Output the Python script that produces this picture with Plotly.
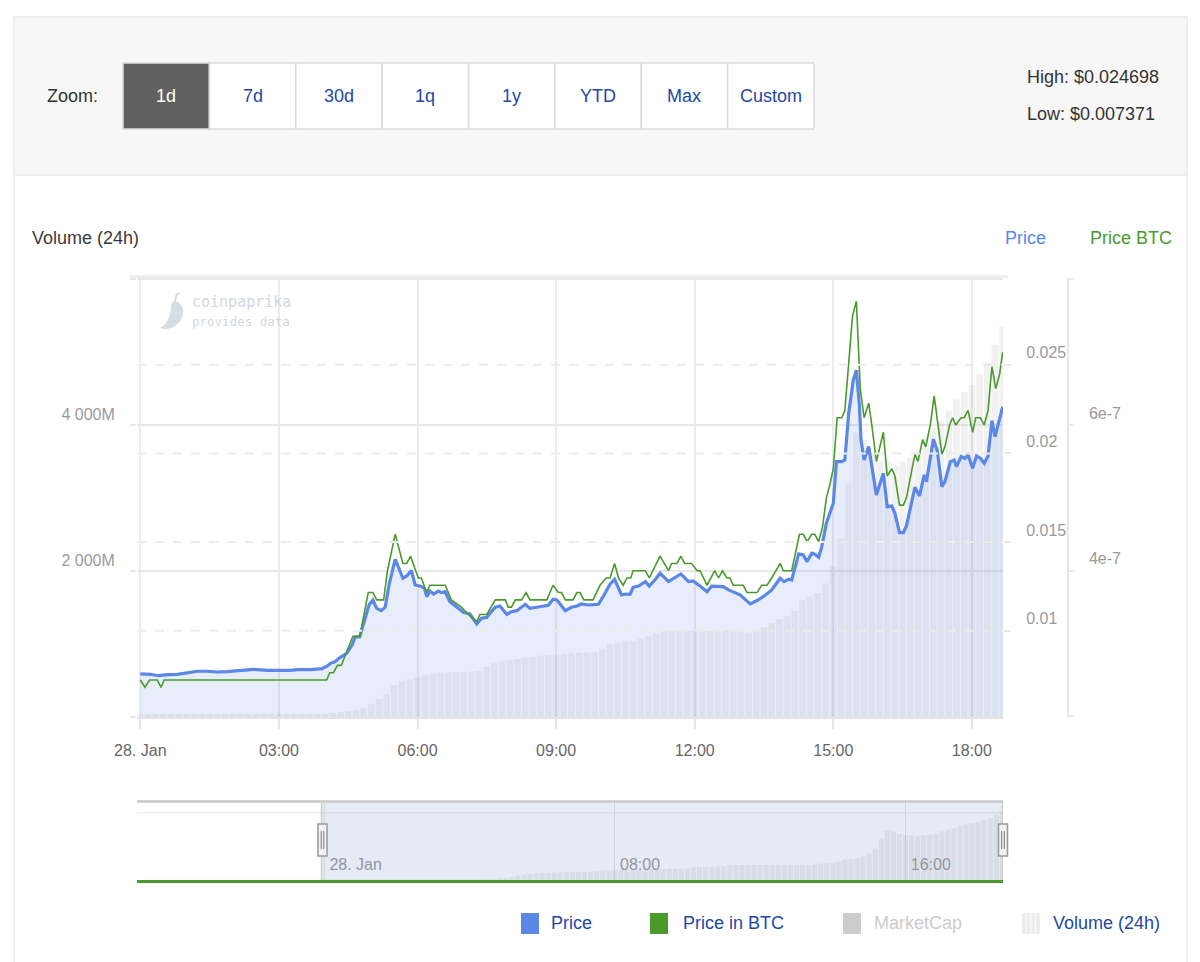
import pandas as pd
import plotly.graph_objects as go

W, H = 1200, 962
BASE = pd.Timestamp("2019-01-28 00:00")

# ---------------- data ----------------
price_minutes = [
    0, 13, 24, 35, 48, 61, 74, 87, 100, 113,
    126, 139, 147, 165, 178, 195, 204, 221, 236, 243,
    247, 253, 258, 264, 268, 275, 279, 285, 290, 297,
    302, 307, 313, 318, 323, 327, 331, 341, 346, 352,
    357, 365, 369, 372, 376, 381, 387, 391, 396, 402,
    413, 420, 428, 437, 443, 450, 454, 461, 467, 476,
    482, 489, 500, 506, 515, 523, 530, 536, 541, 552,
    560, 567, 573, 582, 595, 601, 610, 616, 625, 630,
    636, 640, 647, 656, 661, 669, 675, 686, 694, 702,
    712, 718, 727, 736, 742, 751, 757, 764, 772, 779,
    792, 801, 809, 820, 831, 836, 842, 846, 855, 861,
    866, 872, 876, 881, 885, 891, 900, 904, 911, 915,
    920, 926, 930, 934, 936, 940, 946, 950, 956, 965,
    970, 976, 980, 986, 991, 995, 1002, 1006, 1012, 1018,
    1021, 1030, 1035, 1041, 1045, 1052, 1057, 1060, 1066, 1071,
    1075, 1081, 1086, 1091, 1096, 1101, 1106, 1110, 1117, 1120,
]
price_usd = [
    0.00756, 0.00754, 0.00746, 0.00752, 0.00754, 0.00763, 0.00771, 0.00771, 0.00767, 0.00769,
    0.00775, 0.00782, 0.00782, 0.00776, 0.00775, 0.00776, 0.00780, 0.00780, 0.00786, 0.00801,
    0.00816, 0.00825, 0.00844, 0.00859, 0.00872, 0.00919, 0.00963, 0.00966, 0.01042, 0.01145,
    0.01173, 0.01126, 0.01113, 0.01132, 0.01258, 0.01324, 0.01403, 0.01296, 0.01309, 0.01339,
    0.01258, 0.01249, 0.01239, 0.01192, 0.01224, 0.01207, 0.01224, 0.01215, 0.01220, 0.01164,
    0.01126, 0.01102, 0.01094, 0.01038, 0.01070, 0.01075, 0.01098, 0.01132, 0.01139, 0.01092,
    0.01107, 0.01113, 0.01149, 0.01126, 0.01132, 0.01139, 0.01143, 0.01177, 0.01173, 0.01113,
    0.01132, 0.01139, 0.01151, 0.01145, 0.01149, 0.01192, 0.01262, 0.01290, 0.01202, 0.01207,
    0.01205, 0.01245, 0.01252, 0.01277, 0.01252, 0.01290, 0.01324, 0.01277, 0.01301, 0.01320,
    0.01277, 0.01281, 0.01252, 0.01220, 0.01252, 0.01249, 0.01249, 0.01230, 0.01215, 0.01202,
    0.01151, 0.01170, 0.01192, 0.01230, 0.01296, 0.01277, 0.01290, 0.01286, 0.01433, 0.01427,
    0.01390, 0.01437, 0.01431, 0.01414, 0.01474, 0.01606, 0.01719, 0.01954, 0.01954, 0.01963,
    0.02227, 0.02415, 0.02470, 0.02264, 0.02076, 0.01963, 0.02039, 0.01926, 0.01766, 0.01888,
    0.01700, 0.01704, 0.01662, 0.01553, 0.01553, 0.01591, 0.01728, 0.01809, 0.01760, 0.01879,
    0.01841, 0.02080, 0.02016, 0.01813, 0.01841, 0.01954, 0.01963, 0.01926, 0.01982, 0.01973,
    0.01992, 0.01916, 0.01986, 0.01973, 0.01945, 0.01986, 0.02185, 0.02095, 0.02212, 0.02264,
]

btc_minutes = [
    0, 6, 12, 22, 27, 31, 242, 246, 251, 256,
    261, 268, 276, 285, 296, 302, 307, 316, 321, 327,
    331, 341, 346, 351, 357, 361, 365, 372, 376, 396,
    404, 417, 426, 437, 441, 450, 461, 474, 478, 482,
    487, 495, 501, 506, 528, 536, 543, 547, 552, 562,
    567, 571, 576, 588, 597, 605, 610, 616, 621, 627,
    632, 637, 640, 656, 661, 675, 686, 690, 697, 702,
    707, 716, 723, 727, 736, 746, 751, 756, 762, 766,
    770, 783, 788, 801, 807, 814, 820, 831, 835, 846,
    856, 861, 866, 872, 876, 881, 886, 891, 896, 900,
    905, 911, 915, 920, 925, 930, 935, 940, 946, 950,
    956, 965, 970, 976, 980, 986, 991, 995, 1002, 1006,
    1010, 1016, 1020, 1026, 1031, 1035, 1041, 1045, 1051, 1055,
    1059, 1066, 1070, 1075, 1081, 1085, 1091, 1096, 1101, 1106,
    1111, 1116, 1120,
]
# price in BTC, in satoshi (1e-8 BTC)
btc_sats = [
    25, 24, 25, 25, 24, 25, 25, 26, 26, 27,
    27, 29, 31, 31, 37, 37, 36, 36, 40, 43,
    45, 41, 41, 42, 40, 39, 39, 37, 38, 38,
    36, 35, 34, 33, 34, 34, 36, 36, 35, 35,
    36, 36, 37, 36, 36, 38, 37, 37, 36, 36,
    37, 37, 36, 36, 38, 39, 39, 41, 39, 38,
    39, 39, 40, 40, 39, 42, 40, 41, 41, 42,
    41, 41, 40, 40, 38, 40, 39, 40, 39, 39,
    38, 38, 37, 37, 38, 38, 39, 41, 40, 40,
    45, 45, 44, 45, 45, 44, 46, 50, 52, 54,
    61, 61, 62, 68, 75, 77, 65, 61, 63, 60,
    55, 59, 53, 54, 53, 49, 49, 50, 54, 56,
    55, 58, 57, 60, 64, 61, 56, 57, 60, 61,
    60, 61, 61, 62, 59, 61, 61, 60, 62, 68,
    65, 67, 70,
]

# Volume (24h), million USD, every 10 minutes from 00:00 to 18:40
volume_step_min = 10
volume_musd = [
    50, 50, 50, 50, 50, 50, 50, 50, 50, 50,
    50, 50, 50, 50, 50, 50, 50, 50, 50, 50,
    50, 50, 50, 50, 50, 55, 65, 80, 95, 128,
    175, 245, 310, 440, 490, 520, 545, 570, 585, 605,
    612, 615, 618, 622, 630, 690, 735, 760, 780, 795,
    810, 825, 840, 850, 858, 865, 872, 878, 882, 887,
    935, 1000, 1018, 1030, 1038, 1070, 1105, 1140, 1170, 1175,
    1175, 1175, 1175, 1178, 1180, 1183, 1186, 1189, 1170, 1155,
    1180, 1230, 1290, 1340, 1380, 1450, 1600, 1650, 1700, 1830,
    2070, 2450, 3200, 3900, 3800, 3600, 3500, 3500, 3450, 3500,
    3550, 3650, 3800, 3950, 4050, 4200, 4350, 4450, 4550, 4700,
    4850, 5100, 5350,
]

x_tick_hours = [0, 3, 6, 9, 12, 15, 18]
x_tick_text = ["28. Jan", "03:00", "06:00", "09:00", "12:00", "15:00", "18:00"]
nav_tick_hours = [0, 8, 16]
nav_tick_text = ["28. Jan", "08:00", "16:00"]
vol_ticks = [0, 2000, 4000, 6000]
vol_tick_text = ["", "2 000M", "4 000M", ""]
price_ticks = [0.01, 0.015, 0.02, 0.025]
price_tick_text = ["0.01", "0.015", "0.02", "0.025"]
btc_ticks = [2e-7, 4e-7, 6e-7, 8e-7]
btc_tick_text = ["", "4e-7", "6e-7", ""]
zoom_buttons = ["1d", "7d", "30d", "1q", "1y", "YTD", "Max", "Custom"]
high_text = "High: $0.024698"
low_text = "Low: $0.007371"
legend_items = ["Price", "Price in BTC", "MarketCap", "Volume (24h)"]

# ---------------- helpers ----------------
def tm(m):
    return BASE + pd.Timedelta(minutes=m)

def px(x):
    return x / W

def py(y):
    return 1 - y / H

FONT = "Liberation Sans, Arial, Helvetica, sans-serif"
BLUE = "#5b88e6"
GREEN = "#4a9a2d"
LINKBLUE = "#2248a6"
GRID = "#e8e8e8"
LABEL = "#9a9a9a"

price_x = [tm(m) for m in price_minutes]
btc_x = [tm(m) for m in btc_minutes]
btc_y = [s * 1e-8 for s in btc_sats]
vol_x = [tm(i * volume_step_min) for i in range(len(volume_musd))]

main_range = [tm(-4.3), tm(1120.4)]
nav_range = [tm(-309), tm(1121)]

fig = go.Figure()

fig.add_trace(go.Bar(x=vol_x, y=volume_musd, xaxis="x", yaxis="y",
                     marker=dict(color="rgba(170,170,170,0.17)", line=dict(width=0)),
                     name="Volume (24h)", showlegend=False, hoverinfo="skip"))
fig.add_trace(go.Scatter(x=price_x, y=price_usd, xaxis="x", yaxis="y2", mode="lines",
                         line=dict(color=BLUE, width=3.2), fill="tozeroy",
                         fillcolor="rgba(91,135,230,0.15)", name="Price", showlegend=False))
fig.add_trace(go.Scatter(x=btc_x, y=btc_y, xaxis="x", yaxis="y3", mode="lines",
                         line=dict(color=GREEN, width=1.6), name="Price in BTC", showlegend=False))
fig.add_trace(go.Bar(x=vol_x, y=volume_musd, xaxis="x2", yaxis="y4",
                     marker=dict(color="rgba(160,160,160,0.17)", line=dict(width=0)),
                     name="Volume nav", showlegend=False, hoverinfo="skip"))

X0, X1 = 137, 1003
MT, MB = 278, 717
NT, NB = 801, 880

tickfont = dict(family=FONT, size=16, color=LABEL)

fig.update_layout(
    width=W, height=H, autosize=False,
    margin=dict(l=0, r=0, t=0, b=0, pad=0),
    paper_bgcolor="white", plot_bgcolor="rgba(0,0,0,0)",
    bargap=0.15, showlegend=False, hovermode=False,
    font=dict(family=FONT),
    xaxis=dict(domain=[px(X0), px(X1)], anchor="y", type="date", range=main_range,
               tickvals=[tm(h * 60) for h in x_tick_hours], ticktext=x_tick_text,
               showgrid=True, gridcolor="#ececec", gridwidth=1.5,
               showline=True, linecolor="#e3e3e3", linewidth=2,
               ticks="outside", ticklen=10, tickcolor="#e6e6e6", tickwidth=1.5,
               tickfont=dict(family=FONT, size=16, color="#666666"),
               ticklabelstandoff=8, zeroline=False,
               automargin=False, fixedrange=True),
    yaxis=dict(domain=[py(MB), py(MT)], anchor="x", range=[0, 6014],
               tickvals=vol_ticks, ticktext=vol_tick_text,
               showgrid=True, gridcolor=GRID, gridwidth=2,
               ticks="outside", ticklen=6, tickcolor=GRID, tickwidth=2,
               showline=False, zeroline=False, tickfont=tickfont,
               ticklabelshift=-11, ticklabelstandoff=12, automargin=False, fixedrange=True),
    yaxis2=dict(overlaying="y", side="right", anchor="x", range=[0.00513, 0.0299],
                tickvals=price_ticks, ticktext=price_tick_text, showgrid=False,
                ticks="outside", ticklen=7, tickcolor=GRID, tickwidth=2,
                showline=False, zeroline=False, tickfont=tickfont,
                ticklabelshift=-12, ticklabelstandoff=12, automargin=False, fixedrange=True),
    yaxis3=dict(overlaying="y", side="right", anchor="free", position=px(1068),
                range=[1.992e-7, 8.018e-7], tickvals=btc_ticks, ticktext=btc_tick_text,
                showgrid=False, showline=True, linecolor=GRID, linewidth=1.5,
                ticks="outside", ticklen=5, tickcolor=GRID, tickwidth=1.5,
                zeroline=False, tickfont=tickfont,
                ticklabelshift=-12, ticklabelstandoff=12, automargin=False, fixedrange=True),
    xaxis2=dict(domain=[px(X0), px(X1)], anchor="y4", type="date", range=nav_range,
                tickvals=[tm(h * 60) for h in nav_tick_hours], ticktext=nav_tick_text,
                ticklabelposition="inside right", ticks="",
                ticklabelstandoff=4, ticklabelshift=4,
                showgrid=True, gridcolor="#e4e4e4", gridwidth=1,
                showline=True, linecolor=GREEN, linewidth=2.5,
                tickfont=tickfont, zeroline=False, automargin=False, fixedrange=True),
    yaxis4=dict(domain=[py(NB), py(NT)], anchor="x2", range=[0, 6188],
                showgrid=False, showticklabels=False, zeroline=False,
                showline=False, automargin=False, fixedrange=True),
)

shapes = []
# card and header
shapes.append(dict(type="rect", xref="paper", yref="paper", x0=px(14), x1=px(1187),
                   y0=py(975), y1=py(17), fillcolor="white",
                   line=dict(color="#ebebeb", width=1.5), layer="below"))
shapes.append(dict(type="rect", xref="paper", yref="paper", x0=px(14), x1=px(1187),
                   y0=py(175), y1=py(17), fillcolor="#f7f7f7",
                   line=dict(color="#ebebeb", width=1.5), layer="below"))
# zoom buttons
BW = (814 - 123) / len(zoom_buttons)
for i, lab in enumerate(zoom_buttons):
    bx0 = 123 + i * BW
    shapes.append(dict(type="rect", xref="paper", yref="paper", x0=px(bx0), x1=px(bx0 + BW),
                       y0=py(129), y1=py(63),
                       fillcolor="#616161" if i == 0 else "#ffffff",
                       line=dict(color="#dadada", width=1.5), layer="below"))
# dashed price gridlines drawn over the series
for v in price_ticks:
    shapes.append(dict(type="line", xref="paper", yref="y2", x0=px(X0), x1=px(X1),
                       y0=v, y1=v, line=dict(color="#ececec", width=2, dash="dash"),
                       layer="above"))
# top band of the main plot
shapes.append(dict(type="line", xref="paper", yref="paper", x0=px(130), x1=px(1008),
                   y0=py(276.5), y1=py(276.5), line=dict(color="#eeeeee", width=3),
                   layer="below"))
# navigator decorations
shapes.append(dict(type="line", xref="paper", yref="paper", x0=px(X0), x1=px(X1),
                   y0=py(812.7), y1=py(812.7), line=dict(color="#eeeeee", width=1.5),
                   layer="below"))
shapes.append(dict(type="rect", xref="x2", yref="paper", x0=main_range[0], x1=main_range[1],
                   y0=py(NB), y1=py(NT), fillcolor="rgba(102,133,194,0.16)",
                   line=dict(width=0), layer="above"))
shapes.append(dict(type="line", xref="paper", yref="paper", x0=px(X0), x1=px(X1),
                   y0=py(801.5), y1=py(801.5), line=dict(color="#c9c9c9", width=2.5),
                   layer="above"))
for xx in (main_range[0], main_range[1]):
    shapes.append(dict(type="line", xref="x2", yref="paper", x0=xx, x1=xx,
                       y0=py(NB), y1=py(NT), line=dict(color="#cccccc", width=1.5),
                       layer="above"))
for hx in (322.5, 1003):
    shapes.append(dict(type="rect", xref="paper", yref="paper", x0=px(hx - 4.5), x1=px(hx + 4.5),
                       y0=py(856), y1=py(824), fillcolor="#f2f2f2",
                       line=dict(color="#999999", width=1.5), layer="above"))
    for gx in (hx - 1.3, hx + 1.3):
        shapes.append(dict(type="line", xref="paper", yref="paper", x0=px(gx), x1=px(gx),
                           y0=py(849), y1=py(831), line=dict(color="#777777", width=1),
                           layer="above"))
# legend symbols
leg_sym = [(521, BLUE), (650, GREEN), (843, "#cccccc"), (1022, "#ececec")]
for sx, col in leg_sym:
    shapes.append(dict(type="rect", xref="paper", yref="paper", x0=px(sx), x1=px(sx + 18),
                       y0=py(934), y1=py(913), fillcolor=col, line=dict(width=0), layer="above"))
for gx in (1026.5, 1031, 1035.5):
    shapes.append(dict(type="line", xref="paper", yref="paper", x0=px(gx), x1=px(gx),
                       y0=py(934), y1=py(913), line=dict(color="#fafafa", width=1.2),
                       layer="above"))
# watermark pepper
def P(x, y):
    return f"{px(x):.5f},{py(y):.5f}"
pepper = (f"M {P(173,301)} C {P(182,300)} {P(186,312)} {P(181,320)} "
          f"C {P(176,328)} {P(166,331)} {P(160,328)} C {P(168,324)} {P(171,315)} {P(171,305)} Z")
shapes.append(dict(type="path", xref="paper", yref="paper", path=pepper,
                   fillcolor="#d8dce3", line=dict(width=0), layer="below"))
stem = f"M {P(175,301)} L {P(176.5,295)} L {P(179.5,293)}"
shapes.append(dict(type="path", xref="paper", yref="paper", path=stem,
                   line=dict(color="#d8dce3", width=2), layer="below"))

fig.update_layout(shapes=shapes)

ann = []
def text(x, y, s, size=18, color="#333333", anchor="left", family=FONT):
    ann.append(dict(xref="paper", yref="paper", x=px(x), y=py(y), text=s, showarrow=False,
                    xanchor=anchor, yanchor="middle",
                    font=dict(family=family, size=size, color=color)))

text(45, 96, "Zoom:")
for i, lab in enumerate(zoom_buttons):
    text(123 + i * BW + BW / 2, 96, lab, color="#ffffff" if i == 0 else LINKBLUE, anchor="center")
text(1025, 77, high_text)
text(1025, 114, low_text)
text(30, 238, "Volume (24h)", color="#3a3a3a")
text(1003, 238, "Price", color=BLUE)
text(1088, 238, "Price BTC", color=GREEN)
text(190, 302, "coinpaprika", size=15, color="#d3d7de", family="DejaVu Sans Mono, monospace")
text(190, 322, "provides data", size=12.5, color="#d3d7de", family="DejaVu Sans Mono, monospace")
leg_text_x = [549, 681, 872, 1051]
for lx, lab in zip(leg_text_x, legend_items):
    text(lx, 923, lab, color="#cccccc" if lab == "MarketCap" else LINKBLUE)

fig.update_layout(annotations=ann)

fig.write_html("out.html", config={"displayModeBar": False},
               post_script="document.body.style.margin='0';")
